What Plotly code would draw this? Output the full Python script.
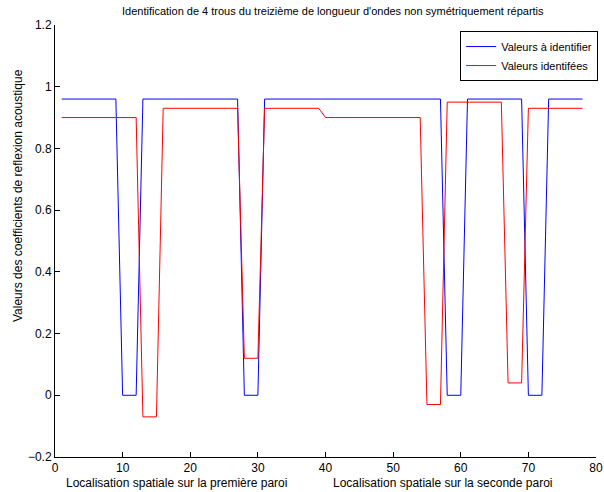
import plotly.graph_objects as go

positions = list(range(1, 79))

valeurs_a_identifier = [
    0.96, 0.96, 0.96, 0.96, 0.96, 0.96, 0.96, 0.96, 0.96,
    0, 0, 0,
    0.96, 0.96, 0.96, 0.96, 0.96, 0.96, 0.96, 0.96, 0.96, 0.96, 0.96, 0.96, 0.96, 0.96, 0.96,
    0, 0, 0,
    0.96, 0.96, 0.96, 0.96, 0.96, 0.96, 0.96, 0.96, 0.96, 0.96, 0.96, 0.96, 0.96, 0.96,
    0.96, 0.96, 0.96, 0.96, 0.96, 0.96, 0.96, 0.96, 0.96, 0.96, 0.96, 0.96, 0.96,
    0, 0, 0,
    0.96, 0.96, 0.96, 0.96, 0.96, 0.96, 0.96, 0.96, 0.96,
    0, 0, 0,
    0.96, 0.96, 0.96, 0.96, 0.96, 0.96,
]

valeurs_identifiees = [
    0.90, 0.90, 0.90, 0.90, 0.90, 0.90, 0.90, 0.90, 0.90, 0.90, 0.90, 0.90,
    -0.07, -0.07, -0.07,
    0.93, 0.93, 0.93, 0.93, 0.93, 0.93, 0.93, 0.93, 0.93, 0.93, 0.93, 0.93,
    0.12, 0.12, 0.12,
    0.93, 0.93, 0.93, 0.93, 0.93, 0.93, 0.93, 0.93, 0.93,
    0.90, 0.90, 0.90, 0.90, 0.90, 0.90, 0.90, 0.90, 0.90, 0.90, 0.90, 0.90, 0.90, 0.90, 0.90,
    -0.03, -0.03, -0.03,
    0.95, 0.95, 0.95, 0.95, 0.95, 0.95, 0.95, 0.95, 0.95,
    0.04, 0.04, 0.04,
    0.93, 0.93, 0.93, 0.93, 0.93, 0.93, 0.93, 0.93, 0.93,
]

font = "Liberation Sans, Arial, sans-serif"

fig = go.Figure()
fig.add_trace(go.Scatter(x=positions, y=valeurs_a_identifier, mode="lines",
                         name="Valeurs à identifier",
                         line=dict(color="#0000ff", width=1)))
fig.add_trace(go.Scatter(x=positions, y=valeurs_identifiees, mode="lines",
                         name="Valeurs identifées",
                         line=dict(color="#ff0000", width=1)))

axis_style = dict(showline=True, linecolor="black", linewidth=1, ticks="inside",
                  ticklen=5, tickcolor="black", showgrid=False, zeroline=False,
                  mirror=False, automargin=False,
                  tickfont=dict(size=12, color="black"))

fig.update_xaxes(range=[0, 80], tick0=0, dtick=10, **axis_style)
fig.update_yaxes(range=[-0.2, 1.2], tick0=-0.2, dtick=0.2, **axis_style)

# labels sous l'axe x et label de l'axe y
fig.add_annotation(text="Localisation spatiale sur la première paroi",
                   x=18.0, xref="x", y=0, yref="paper", yanchor="middle",
                   yshift=-26, showarrow=False,
                   font=dict(size=12, color="black"))
fig.add_annotation(text="Localisation spatiale sur la seconde paroi",
                   x=57.3, xref="x", y=0, yref="paper", yanchor="middle",
                   yshift=-26, showarrow=False,
                   font=dict(size=12, color="black"))
fig.add_annotation(text="Valeurs des coefficients de reflexion acoustique",
                   x=0, xref="paper", xanchor="center", xshift=-37,
                   y=0.604, yref="paper", yanchor="middle",
                   textangle=-90, showarrow=False,
                   font=dict(size=12, color="black"))

fig.update_layout(
    width=604, height=492,
    margin=dict(l=55, r=6, t=25, b=35),
    paper_bgcolor="white", plot_bgcolor="white",
    font=dict(family=font, size=12, color="black"),
    title=dict(text="Identification de 4 trous du treizième de longueur d'ondes non symétriquement répartis",
               x=0.551, xanchor="center", y=0.978, yanchor="middle",
               font=dict(size=11, color="black")),
    legend=dict(x=1.004, y=0.986, xanchor="right", yanchor="top",
                bordercolor="black", borderwidth=1, bgcolor="white",
                font=dict(size=11), tracegroupgap=0, itemwidth=30),
    showlegend=True,
)

fig.write_html("out.html", config={"displayModeBar": False},
               post_script="document.body.style.margin = '0';")
